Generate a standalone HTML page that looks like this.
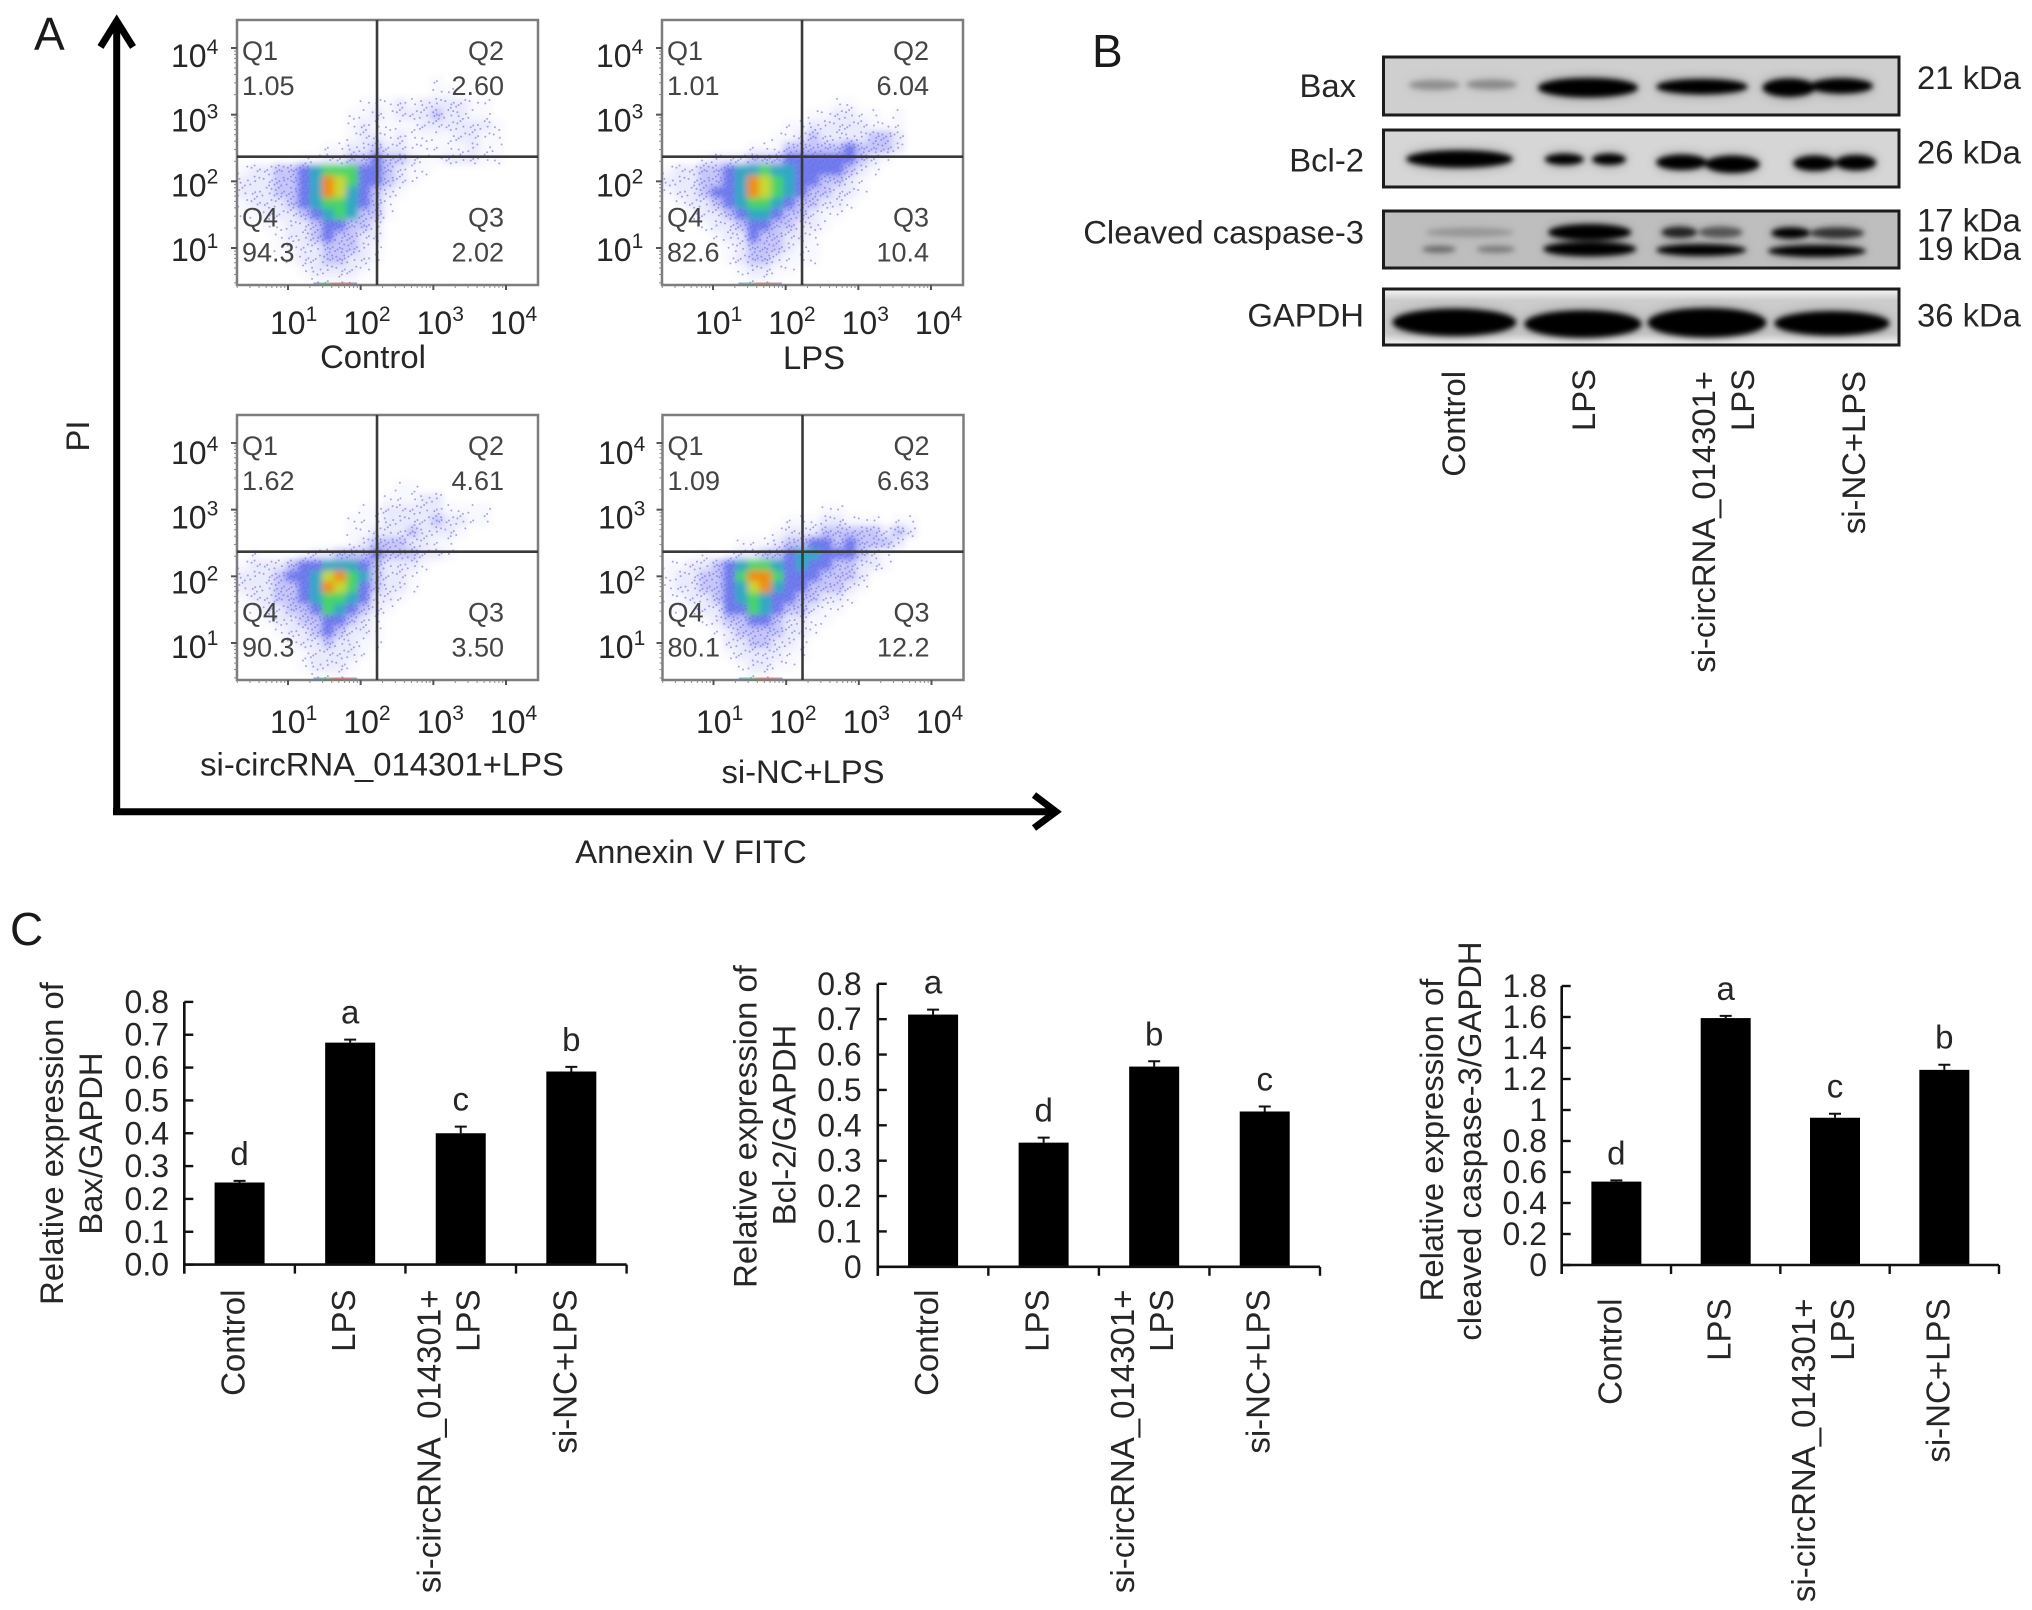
<!DOCTYPE html>
<html lang="en">
<head>
<meta charset="utf-8">
<title>Apoptosis flow cytometry, western blot and relative expression charts</title>
<style>
html,body{margin:0;padding:0;background:#fff;}
svg{display:block;}
text{font-family:"Liberation Sans",sans-serif;fill:#262626;}
.t32{font-size:32.8px;}
.panel{font-size:46px;fill:#1a1a1a;}
</style>
</head>
<body>
<svg id="figure" xmlns="http://www.w3.org/2000/svg" width="2032" height="1610" viewBox="0 0 2032 1610">
<defs>
<filter id="densityBlur" x="-10%" y="-10%" width="120%" height="120%"><feGaussianBlur stdDeviation="3.4"/></filter>
<filter id="bandBlur" x="-20%" y="-40%" width="140%" height="180%"><feGaussianBlur stdDeviation="2.6"/></filter>
<filter id="haloBlur" x="-20%" y="-60%" width="140%" height="220%"><feGaussianBlur stdDeviation="6"/></filter>
<linearGradient id="gapdhBg" x1="0" y1="0" x2="0" y2="1">
<stop offset="0" stop-color="#f8f8f8"/><stop offset="0.2" stop-color="#cccccc"/><stop offset="0.8" stop-color="#c8c8c8"/><stop offset="1" stop-color="#f6f6f6"/>
</linearGradient>
<linearGradient id="pileUp" x1="0" y1="0" x2="1" y2="0">
<stop offset="0" stop-color="#6a78ea"/><stop offset="0.3" stop-color="#46d468"/><stop offset="0.5" stop-color="#f05040"/><stop offset="0.75" stop-color="#f05040"/><stop offset="1" stop-color="#6a78ea"/>
</linearGradient>
<g id="bands1">
<ellipse cx="1434.2" cy="85" rx="25.4" ry="4.8" fill="#8f8f8f"/>
<ellipse cx="1491.6" cy="84.5" rx="25.4" ry="4.8" fill="#8a8a8a"/>
<ellipse cx="1588" cy="87.7" rx="50" ry="9.5"/>
<ellipse cx="1702" cy="86.7" rx="45.8" ry="7.5"/>
<ellipse cx="1789" cy="87.7" rx="26.4" ry="9"/>
<ellipse cx="1841.5" cy="86" rx="31.4" ry="7.5"/>
</g>
<g id="bands2">
<ellipse cx="1459.5" cy="159" rx="53.4" ry="8.5"/>
<ellipse cx="1564.3" cy="159.3" rx="19.6" ry="5.5"/>
<ellipse cx="1609" cy="159.3" rx="17" ry="5.5"/>
<ellipse cx="1681.7" cy="162.3" rx="25.5" ry="7.5"/>
<ellipse cx="1732.4" cy="164.3" rx="27.2" ry="8.5"/>
<ellipse cx="1814.5" cy="163.3" rx="21.3" ry="7.5"/>
<ellipse cx="1855.8" cy="162.7" rx="20.4" ry="7.5"/>
</g>
<g id="bands3">
<ellipse cx="1469.7" cy="232.3" rx="44" ry="4.4" fill="#969696"/>
<ellipse cx="1589.7" cy="232.3" rx="41.6" ry="8"/>
<ellipse cx="1679.3" cy="232.3" rx="18" ry="5.5" fill="#222"/>
<ellipse cx="1720.5" cy="232.3" rx="22" ry="5.5" fill="#555"/>
<ellipse cx="1790.8" cy="233" rx="19.6" ry="5.5"/>
<ellipse cx="1837" cy="233" rx="27" ry="5.5" fill="#333"/>
<ellipse cx="1439" cy="249.3" rx="17" ry="3.2" fill="#666"/>
<ellipse cx="1495.7" cy="249.3" rx="19.4" ry="3.2" fill="#777"/>
<ellipse cx="1589.7" cy="249" rx="46.6" ry="7.2"/>
<ellipse cx="1701.2" cy="250" rx="45" ry="5.8"/>
<ellipse cx="1816.9" cy="251" rx="49" ry="5.8"/>
</g>
<g id="bands4">
<ellipse cx="1454.4" cy="322.3" rx="61.9" ry="13.5"/>
<ellipse cx="1583" cy="324" rx="58.5" ry="13.5"/>
<ellipse cx="1707" cy="322.7" rx="59.3" ry="14.5"/>
<ellipse cx="1832" cy="323.3" rx="57.6" ry="12"/>
</g>
</defs>
<rect width="2032" height="1610" fill="#fff"/>

<g id="panelA">
<text class="panel" x="34" y="50">A</text>
<path d="M116.7 815V22M100.5 47L116.7 21L133 47" fill="none" stroke="#000" stroke-width="7"/>
<path d="M113 811.7H1054M1034 795L1056 811.7L1034 828" fill="none" stroke="#000" stroke-width="7"/>
<text class="t32" transform="rotate(-90 89 436)" x="89" y="436" text-anchor="middle">PI</text>
<text class="t32" x="691" y="863" text-anchor="middle">Annexin V FITC</text>
</g>

<g>
<text class="panel" x="1092" y="67">B</text>
<g>
<rect x="1383.5" y="57" width="515.5" height="58" fill="#cfcfcf" stroke="#1c1c1c" stroke-width="3"/>
<use href="#bands1" filter="url(#haloBlur)" opacity="0.35"/><use href="#bands1" filter="url(#bandBlur)"/>
</g>
<g>
<rect x="1383.5" y="130" width="515.5" height="57" fill="#d6d6d6" stroke="#1c1c1c" stroke-width="3"/>
<use href="#bands2" filter="url(#haloBlur)" opacity="0.35"/><use href="#bands2" filter="url(#bandBlur)"/>
</g>
<g>
<rect x="1383.5" y="211" width="515.5" height="57" fill="#bebebe" stroke="#1c1c1c" stroke-width="3"/>
<use href="#bands3" filter="url(#haloBlur)" opacity="0.25"/><use href="#bands3" filter="url(#bandBlur)"/>
</g>
<g>
<rect x="1383.5" y="289" width="515.5" height="56" fill="url(#gapdhBg)" stroke="#1c1c1c" stroke-width="3"/>
<use href="#bands4" filter="url(#haloBlur)" opacity="0.3"/><use href="#bands4" filter="url(#bandBlur)"/>
</g>
<text class="t32" x="1356" y="97" text-anchor="end">Bax</text>
<text class="t32" x="1364" y="171.7" text-anchor="end">Bcl-2</text>
<text class="t32" x="1364" y="243.3" text-anchor="end">Cleaved caspase-3</text>
<text class="t32" x="1364" y="326.7" text-anchor="end">GAPDH</text>
<text class="t32" x="1917" y="89">21 kDa</text>
<text class="t32" x="1917" y="163.3">26 kDa</text>
<text class="t32" x="1917" y="231.7">17 kDa</text>
<text class="t32" x="1917" y="260">19 kDa</text>
<text class="t32" x="1917" y="326.7">36 kDa</text>
<text class="t32" transform="rotate(-90 1465 371)" x="1465" y="371" text-anchor="end">Control</text>
<text class="t32" transform="rotate(-90 1595 369)" x="1595" y="369" text-anchor="end">LPS</text>
<text class="t32" transform="rotate(-90 1715 371)" x="1715" y="371" text-anchor="end">si-circRNA_014301+</text>
<text class="t32" transform="rotate(-90 1754 369)" x="1754" y="369" text-anchor="end">LPS</text>
<text class="t32" transform="rotate(-90 1865 371)" x="1865" y="371" text-anchor="end">si-NC+LPS</text>
</g>

<g id="panelC">
<text class="panel" x="10" y="945">C</text>
<text class="t32" transform="rotate(-90 63 1143.5)" x="63" y="1143.5" text-anchor="middle">Relative expression of</text>
<text class="t32" transform="rotate(-90 102 1143.5)" x="102" y="1143.5" text-anchor="middle">Bax/GAPDH</text>
<text class="t32" transform="rotate(-90 756.4 1126.5)" x="756.4" y="1126.5" text-anchor="middle">Relative expression of</text>
<text class="t32" transform="rotate(-90 795.4 1125)" x="795.4" y="1125" text-anchor="middle">Bcl-2/GAPDH</text>
<text class="t32" transform="rotate(-90 1443 1140)" x="1443" y="1140" text-anchor="middle">Relative expression of</text>
<text class="t32" transform="rotate(-90 1481 1141)" x="1481" y="1141" text-anchor="middle">cleaved caspase-3/GAPDH</text>
</g>
</svg>

<script>
// ---------- Panel A data: density read per bin from each cytometry plot ----------
const flowNames = ['Control', 'LPS', 'si-circRNA_014301+LPS', 'si-NC+LPS'];
const flowQ1 = ['1.05', '1.01', '1.62', '1.09'];
const flowQ2 = ['2.60', '6.04', '4.61', '6.63'];
const flowQ3 = ['2.02', '10.4', '3.50', '12.2'];
const flowQ4 = ['94.3', '82.6', '90.3', '80.1'];
const flowDecades = [1, 2, 3, 4];
const densityColors = ['none', '#f8f8ff', '#eaeafd', '#c6c6f9', '#6f7cec', '#2ea8c4', '#46d468', '#c8d830', '#f08c10'];
const dotCounts = [0, 2, 4, 7, 9, 0, 0, 0, 0];
const dotOffsets = [[0.2, 0.3], [0.7, 0.6], [0.45, 0.1], [0.1, 0.8], [0.85, 0.2], [0.5, 0.5], [0.3, 0.65], [0.65, 0.9], [0.9, 0.45]];

const densityControl = [
[],[],[],[],[],
[0,0,0,0,0,0,0,0,0,0,0,0,0,0,0,0,1],
[0,0,0,0,0,0,0,0,0,0,0,0,0,0,0,0,1,1],
[0,0,0,0,0,0,0,0,0,0,1,1,1,2,1,2,2,2,2,1,1],
[0,0,0,0,0,0,0,0,0,1,1,2,1,2,2,2,3,2,2,1,1],
[0,0,0,0,0,0,0,0,0,1,2,1,1,1,1,2,2,2,2,2,2,1],
[0,0,0,0,0,0,0,0,0,1,2,2,1,2,1,1,1,1,2,2,1,1],
[0,0,0,0,0,0,0,1,1,2,2,3,2,2,1,1,1,1,1,2,1,1],
[0,0,0,0,0,1,1,2,2,3,3,4,3,3,2,1,1,2,2,2,1,1],
[1,2,2,3,3,4,5,6,6,6,4,4,3,2,1,1],
[2,2,2,3,3,4,5,8,7,6,4,4,3,2,1],
[2,2,2,3,3,4,5,8,7,5,4,3,2,1],
[1,2,2,2,3,4,5,6,6,5,4,3,1],
[1,1,2,2,2,3,4,5,6,5,3,3,1],
[0,0,1,1,2,2,3,4,4,3,3,2],
[0,0,0,1,2,2,3,4,3,3,2,2],
[0,0,0,1,1,2,2,3,3,3,2,1],
[0,0,0,0,1,2,2,3,3,2,2,1],
[0,0,0,0,0,1,2,2,2,2,1],
[0,0,0,0,0,0,1,1,1,1]
];
const densityLps = [
[],[],[],[],[],[],[],
[0,0,0,0,0,0,0,0,0,0,0,0,0,0,1,1],
[0,0,0,0,0,0,0,0,0,0,0,0,1,1,2,2,1,1,0,1],
[0,0,0,0,0,0,0,0,0,0,1,1,2,2,2,2,2,1,1,1],
[0,0,0,0,0,0,0,0,0,1,1,2,3,2,2,2,2,3,3,2],
[0,0,0,0,0,0,0,1,1,1,3,3,3,3,3,4,3,3,3,2],
[0,0,0,1,2,2,2,3,3,3,4,4,4,4,4,4,3,2,1],
[1,2,2,3,3,4,5,5,6,5,5,4,4,4,4,3,2,1],
[2,2,2,3,3,4,5,8,7,6,5,4,4,3,3,2,1],
[1,2,2,3,4,4,5,8,7,6,5,4,3,3,2,2,1],
[0,1,2,2,3,4,5,6,6,5,4,3,3,2,2,1],
[0,0,1,2,2,3,4,5,5,4,3,3,2,1,1],
[0,0,0,1,2,2,3,4,4,3,3,2,2,1],
[0,0,0,0,1,2,2,4,3,3,2,2,1],
[0,0,0,0,0,1,2,3,3,3,2,1,1],
[0,0,0,0,0,1,2,3,3,2,1,1,1],
[0,0,0,0,0,0,1,2,2,1,1],
[0,0,0,0,0,0,0,1,1]
];
const densityCirc = [
[],[],[],[],[],[],
[0,0,0,0,0,0,0,0,0,0,0,0,0,1,1],
[0,0,0,0,0,0,0,0,0,0,0,0,1,1,1,2,2],
[0,0,0,0,0,0,0,0,0,0,1,1,2,2,2,2,2,1,1,1,1],
[0,0,0,0,0,0,0,0,0,1,1,1,2,2,2,2,3,2,2,1,1],
[0,0,0,0,0,0,0,0,0,1,1,2,2,2,3,2,2,2,1],
[0,0,0,0,0,0,0,0,0,1,2,3,3,3,2,2,1,1],
[0,1,0,0,0,1,2,2,3,3,3,4,3,3,3,2,2,1],
[1,2,2,2,3,4,4,5,5,5,4,3,2,2,2,1],
[2,2,2,3,4,4,5,7,8,6,5,3,2,2,1],
[2,2,2,3,3,4,5,8,7,6,4,3,2,2,1],
[1,2,2,3,3,4,5,6,6,5,4,2,2,1],
[0,1,2,2,3,3,4,6,5,4,3,2,1],
[0,0,1,2,2,3,3,4,4,3,2,1],
[0,0,0,1,2,2,3,4,3,2,2,1],
[0,0,0,0,1,2,2,3,2,2,1,1],
[0,0,0,0,0,1,2,2,2,2,1],
[0,0,0,0,0,1,2,2,2,1],
[0,0,0,0,0,0,1,1,1]
];
const densityNc = [
[],[],[],[],[],[],[],[],
[0,0,0,0,0,0,0,0,0,0,0,0,0,1,1],
[0,0,0,0,0,0,0,0,0,0,1,1,1,2,2,1,1,1,0,1,1],
[0,0,0,0,0,0,0,0,0,1,2,2,2,3,3,3,3,3,2,3,2],
[0,0,0,0,0,0,1,1,1,2,3,3,4,4,3,4,3,3,3,2],
[0,0,0,1,0,1,2,2,3,3,4,5,5,4,4,4,3,2,1],
[1,1,2,2,3,4,5,6,6,5,4,5,4,4,3,3,2,2,1],
[1,2,2,3,3,4,6,8,8,6,4,4,4,3,3,3,2],
[1,2,2,3,3,4,5,7,8,5,4,4,3,3,3,2,1],
[1,1,2,2,3,4,5,6,5,4,4,3,3,2,2,1],
[0,1,1,2,2,4,4,6,5,4,3,3,2,1,1],
[0,0,0,1,2,3,3,4,4,3,2,2,1,1],
[0,0,0,0,1,2,3,3,3,3,2,2,1],
[0,0,0,0,0,2,2,3,3,2,2,1],
[0,0,0,0,0,1,2,2,2,2,1,1],
[0,0,0,0,0,0,1,2,2,1,1],
[0,0,0,0,0,0,0,1,1]
];
const flowDensities = [densityControl, densityLps, densityCirc, densityNc];

// ---------- Panel C data ----------
const categoryLines = [['Control'], ['LPS'], ['si-circRNA_014301+', 'LPS'], ['si-NC+LPS']];
const baxValues = [0.25, 0.676, 0.40, 0.588];
const baxErrors = [0.005, 0.009, 0.02, 0.014];
const baxLetters = ['d', 'a', 'c', 'b'];
const baxTicks = ['0.0', '0.1', '0.2', '0.3', '0.4', '0.5', '0.6', '0.7', '0.8'];
const bcl2Values = [0.713, 0.351, 0.566, 0.439];
const bcl2Errors = [0.014, 0.014, 0.015, 0.014];
const bcl2Letters = ['a', 'd', 'b', 'c'];
const bcl2Ticks = ['0', '0.1', '0.2', '0.3', '0.4', '0.5', '0.6', '0.7', '0.8'];
const caspaseValues = [0.538, 1.593, 0.95, 1.259];
const caspaseErrors = [0.008, 0.014, 0.026, 0.033];
const caspaseLetters = ['d', 'a', 'c', 'b'];
const caspaseTicks = ['0', '0.2', '0.4', '0.6', '0.8', '1', '1.2', '1.4', '1.6', '1.8'];

// ---------- Drawing helpers ----------
const SVGNS = 'http://www.w3.org/2000/svg';
function mk(tag, parent, attrs) {
  const el = document.createElementNS(SVGNS, tag);
  for (const k in attrs) el.setAttribute(k, attrs[k]);
  parent.appendChild(el);
  return el;
}

// ---------- Panel A ----------
const flowOffsets = [[0, 0], [425, 0], [0, 395], [425.5, 395]];
const nameCenters = [[373, 368], [814, 369], [382, 775.7], [803, 783]];
const panelA = document.getElementById('panelA');
const svgRoot = document.getElementById('figure');
const defs = svgRoot.querySelector('defs');
const logLeft = 0.298, logTop = 4.42, binsPerDecade = 6;
const gateX = 2.225, gateY = 2.37;
const qFont = 27;

flowNames.forEach(function (name, p) {
  const ox = flowOffsets[p][0], oy = flowOffsets[p][1];
  const xAxis = function (v) { return ox + 288 + (v - 1) * 72.67; };
  const yAxis = function (v) { return oy + 248 - (v - 1) * 66.67; };
  const left = xAxis(logLeft), top = yAxis(logTop), right = ox + 538, bottom = oy + 285;

  const g = mk('g', panelA, {});
  
  

  const clip = mk('clipPath', defs, { id: 'flowClip' + p });
  mk('rect', clip, { x: left, y: top, width: right - left, height: bottom - top });
  const clipG = mk('g', g, { 'clip-path': 'url(#flowClip' + p + ')' });
  
  
  const dens = mk('g', clipG, { filter: 'url(#densityBlur)' });
  
  
  const dots = mk('g', clipG, { fill: '#6a6aee', 'fill-opacity': 0.6 });
  
  
  flowDensities[p].forEach(function (row, r) {
    row.forEach(function (level, c) {
      if (!level) return;
      const x1 = xAxis(logLeft + c / binsPerDecade), x2 = xAxis(logLeft + (c + 1) / binsPerDecade);
      const y1 = yAxis(logTop - r / binsPerDecade), y2 = yAxis(logTop - (r + 1) / binsPerDecade);
      const cell = mk('rect', dens, { x: x1, y: y1, width: x2 - x1 + 0.5, height: y2 - y1 + 0.5, fill: densityColors[level] });
      
      
      for (let k = 0; k < dotCounts[level]; k++) {
        const off = dotOffsets[(r * 3 + c * 5 + k) % dotOffsets.length];
        const dot = mk('circle', dots, { cx: x1 + off[0] * (x2 - x1), cy: y1 + off[1] * (y2 - y1), r: 1 });
        
        
      }
    });
  });

  const pile = mk('rect', g, { x: xAxis(1.35), y: bottom - 2.5, width: xAxis(1.95) - xAxis(1.35), height: 2.5, fill: 'url(#pileUp)', opacity: 0.7 });
  
  

  const frame = mk('rect', g, { x: left, y: top, width: right - left, height: bottom - top, fill: 'none', stroke: '#7d7d7d', 'stroke-width': 2.5 });
  
  
  const vGate = mk('line', g, { x1: xAxis(gateX), x2: xAxis(gateX), y1: top, y2: bottom, stroke: '#3a3a3a', 'stroke-width': 2.6 });
  
  
  const hGate = mk('line', g, { x1: left, x2: right, y1: yAxis(gateY), y2: yAxis(gateY), stroke: '#3a3a3a', 'stroke-width': 2.6 });
  
  

  flowDecades.forEach(function (d) {
    const majorY = mk('line', g, { x1: left - 6, x2: left, y1: yAxis(d), y2: yAxis(d), stroke: '#555', 'stroke-width': 2 });
    
    
    const majorX = mk('line', g, { x1: xAxis(d), x2: xAxis(d), y1: bottom, y2: bottom + 5, stroke: '#555', 'stroke-width': 2 });
    
    
    for (let m = 2; m <= 9; m++) {
      const lv = d - 1 + Math.log10(m);
      if (yAxis(lv) < bottom) {
        const minorY = mk('line', g, { x1: left - 3, x2: left, y1: yAxis(lv), y2: yAxis(lv), stroke: '#888', 'stroke-width': 1 });
        
        
      }
      if (xAxis(lv) > left) {
        const minorX = mk('line', g, { x1: xAxis(lv), x2: xAxis(lv), y1: bottom, y2: bottom + 3, stroke: '#888', 'stroke-width': 1 });
        
        
      }
    }
    const lowRow = p >= 2 ? 2 : 0;
    const yLab = mk('text', g, { x: ox + 171 + (p === 3 ? 1.5 : 0), y: oy + lowRow + 261 - (d - 1) * 64.67, 'font-size': 32 });
    
    
    yLab.textContent = '10';
    mk('tspan', yLab, { dy: -13, 'font-size': 21 }).textContent = String(d);
    const xLab = mk('text', g, { x: ox + 270 + (d - 1) * 73.3 + (p === 3 ? 0.5 : 0), y: oy + 334 + (p >= 2 ? 4 : 0), 'font-size': 32 });
    
    
    xLab.textContent = '10';
    mk('tspan', xLab, { dy: -13, 'font-size': 21 }).textContent = String(d);
  });

  const lx = ox + 242, rx = ox + 504;
  const q1 = mk('text', g, { x: lx, y: oy + 60, 'font-size': qFont, style: 'fill:#444' });
  
  
  q1.textContent = 'Q1';
  const q1v = mk('text', g, { x: lx, y: oy + 95, 'font-size': qFont, style: 'fill:#444' });
  
  
  q1v.textContent = flowQ1[p];
  const q2 = mk('text', g, { x: rx, y: oy + 60, 'font-size': qFont, 'text-anchor': 'end', style: 'fill:#444' });
  
  
  q2.textContent = 'Q2';
  const q2v = mk('text', g, { x: rx, y: oy + 95, 'font-size': qFont, 'text-anchor': 'end', style: 'fill:#444' });
  
  
  q2v.textContent = flowQ2[p];
  const q4 = mk('text', g, { x: lx, y: oy + 226.7, 'font-size': qFont, style: 'fill:#444' });
  
  
  q4.textContent = 'Q4';
  const q4v = mk('text', g, { x: lx, y: oy + 261.7, 'font-size': qFont, style: 'fill:#444' });
  
  
  q4v.textContent = flowQ4[p];
  const q3 = mk('text', g, { x: rx, y: oy + 226.7, 'font-size': qFont, 'text-anchor': 'end', style: 'fill:#444' });
  
  
  q3.textContent = 'Q3';
  const q3v = mk('text', g, { x: rx, y: oy + 261.7, 'font-size': qFont, 'text-anchor': 'end', style: 'fill:#444' });
  
  
  q3v.textContent = flowQ3[p];

  const title = mk('text', g, { x: nameCenters[p][0], y: nameCenters[p][1], 'font-size': 32.8, 'text-anchor': 'middle' });
  
  
  title.textContent = name;
});

// ---------- Panel C ----------
const panelC = document.getElementById('panelC');
const barCharts = [
  { values: baxValues, errors: baxErrors, letters: baxLetters, ticks: baxTicks, x0: 184.3, x1: 626.6, y0: 1264.6, yTop: 1001.9, max: 0.8, labelRight: 169, labelStart: 1289.5, barW: 50 },
  { values: bcl2Values, errors: bcl2Errors, letters: bcl2Letters, ticks: bcl2Ticks, x0: 877.8, x1: 1320, y0: 1266.8, yTop: 983.8, max: 0.8, labelRight: 861.7, labelStart: 1289.5, barW: 50 },
  { values: caspaseValues, errors: caspaseErrors, letters: caspaseLetters, ticks: caspaseTicks, x0: 1561.7, x1: 1999, y0: 1265, yTop: 986, max: 1.8, labelRight: 1547, labelStart: 1298.5, barW: 50 }
];

barCharts.forEach(function (ch) {
  const band = (ch.x1 - ch.x0) / ch.values.length;
  const xCenter = function (i) { return ch.x0 + (i + 0.5) * band; };
  const yScale = function (v) { return ch.y0 - (v / ch.max) * (ch.y0 - ch.yTop); };
  const g = mk('g', panelC, {});
  
  

  ch.values.forEach(function (v, i) {
    const bar = mk('rect', g, { x: xCenter(i) - ch.barW / 2, y: yScale(v), width: ch.barW, height: ch.y0 - yScale(v), fill: '#000' });
    
    
    const errY = yScale(v + ch.errors[i]);
    const err = mk('path', g, { d: 'M' + xCenter(i) + ' ' + yScale(v) + 'V' + errY + 'M' + (xCenter(i) - 6) + ' ' + errY + 'H' + (xCenter(i) + 6), stroke: '#111', 'stroke-width': 2, fill: 'none' });
    
    
    const letter = mk('text', g, { x: xCenter(i), y: errY - 16, 'font-size': 33, 'text-anchor': 'middle' });
    
    
    letter.textContent = ch.letters[i];

    const lines = categoryLines[i];
    lines.forEach(function (ln, k) {
      const center = lines.length > 1 ? xCenter(i) - 12 + (k - 0.5) * 39 : xCenter(i) - 6.5;
      const bx = center + 11.5;
      const lab = mk('text', g, { x: bx, y: ch.labelStart, transform: 'rotate(-90 ' + bx + ' ' + ch.labelStart + ')', 'font-size': 33, 'text-anchor': 'end' });
      
      
      lab.textContent = ln;
    });
  });

  const yAxisLine = mk('line', g, { x1: ch.x0, x2: ch.x0, y1: ch.yTop, y2: ch.y0 + 9, stroke: '#111', 'stroke-width': 2.6 });
  
  
  const xAxisLine = mk('line', g, { x1: ch.x0, x2: ch.x1, y1: ch.y0, y2: ch.y0, stroke: '#111', 'stroke-width': 2.6 });
  
  
  for (let i = 0; i <= ch.values.length; i++) {
    const tx = ch.x0 + i * band;
    const xt = mk('line', g, { x1: tx, x2: tx, y1: ch.y0, y2: ch.y0 + 9, stroke: '#111', 'stroke-width': 2.4 });
    
    
  }
  ch.ticks.forEach(function (t) {
    const ty = yScale(Number(t));
    const yt = mk('line', g, { x1: ch.x0, x2: ch.x0 + 9, y1: ty, y2: ty, stroke: '#111', 'stroke-width': 2.4 });
    
    
    const lab = mk('text', g, { x: ch.labelRight, y: ty + 11, 'font-size': 32, 'text-anchor': 'end' });
    
    
    lab.textContent = t;
  });
});
</script>
</body>
</html>
